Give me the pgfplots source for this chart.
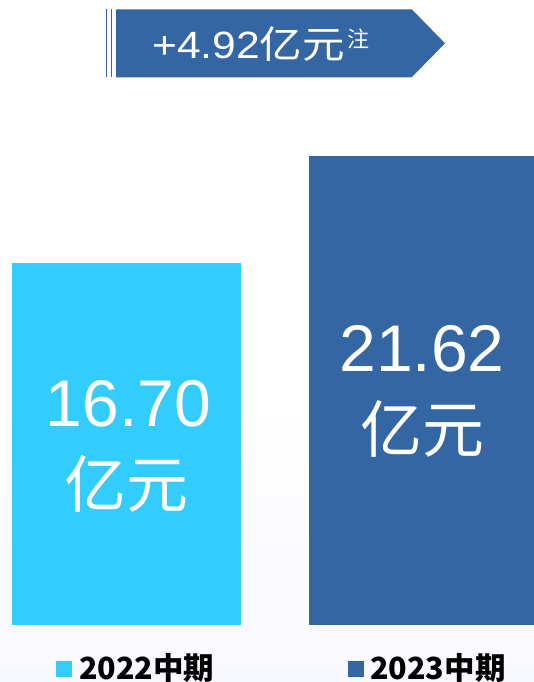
\documentclass[border=0pt]{standalone}
\usepackage{pgfplots}
\pgfplotsset{compat=1.18}
\usepackage{fontspec}
\setmainfont{Liberation Sans}
\newfontfamily\arial{Liberation Sans}
\newfontfamily\cjk{Noto Sans CJK SC}
\definecolor{lightbar}{HTML}{33CCFF}
\definecolor{darkbar}{HTML}{3566A4}
\definecolor{bgl}{RGB}{248,248,255}
\begin{document}
\begin{tikzpicture}[x=1pt,y=1pt]
\useasboundingbox (0,-57) rectangle (534,625);
% background
\fill[white] (0,-57) rectangle (534,625);
\shade[top color=white, bottom color=bgl] (0,-57) rectangle (534,225);
\begin{axis}[
  at={(0,0)}, anchor=origin,
  x=1pt, y=21.677pt,
  xmin=0, xmax=534, ymin=-2.6295, ymax=28.832,
  hide axis, clip=false,
]
\addplot[ybar, bar width=229, bar shift=0pt, fill=lightbar, draw=none] coordinates {(126.5,16.70)};
\addplot[ybar, bar width=225, bar shift=0pt, fill=darkbar, draw=none] coordinates {(421.5,21.62)};
\end{axis}
% bar labels
\node[anchor=base, text=white, inner sep=0pt, font=\arial\fontsize{66}{66}\selectfont] at (128.5,198) {16.70};
\node[anchor=base, text=white, inner sep=0pt, font=\cjk\fontsize{62}{62}\selectfont] at (126,117) {亿元};
\node[anchor=base, text=white, inner sep=0pt, font=\arial\fontsize{66}{66}\selectfont] at (422,253) {21.62};
\node[anchor=base, text=white, inner sep=0pt, font=\cjk\fontsize{62}{62}\selectfont] at (422.5,172) {亿元};
% banner
\fill[darkbar] (116,615.7) -- (411.7,615.7) -- (445,581.7) -- (411.7,547.7) -- (116,547.7) -- cycle;
\draw[darkbar, line width=1.8pt] (106.5,615.7) -- (106.5,547.7);
\draw[darkbar, line width=1.8pt] (111.5,615.7) -- (111.5,547.7);
\node[anchor=base west, text=white, inner sep=0pt, font=\fontsize{38}{38}\selectfont] at (152,566) {\scalebox{1.12}[1]{{\arial +4.92}{\cjk 亿元}}};
\node[anchor=base west, text=white, inner sep=0pt, font=\cjk\fontsize{22}{22}\selectfont] at (347,577) {注};
% category labels
\fill[lightbar] (56,-36) rectangle (71.5,-52);
\fill[darkbar] (348,-36) rectangle (364,-52);
\node[anchor=base west, inner sep=0pt, font=\cjk\bfseries\fontsize{30.5}{30.5}\selectfont] at (79,-54.5) {2022中期};
\node[anchor=base west, inner sep=0pt, font=\cjk\bfseries\fontsize{30.5}{30.5}\selectfont] at (370,-54.5) {2023中期};
\end{tikzpicture}
\end{document}
